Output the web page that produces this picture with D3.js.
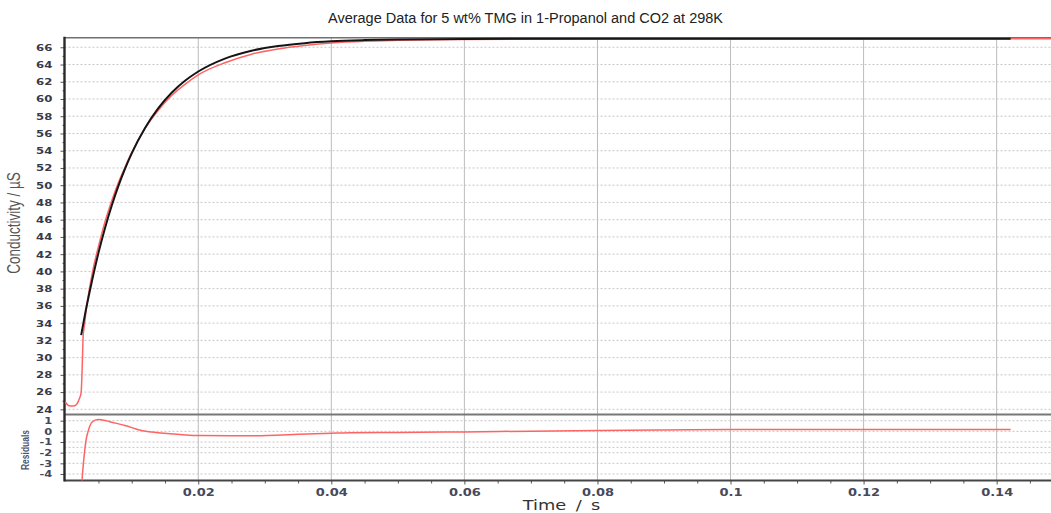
<!DOCTYPE html>
<html>
<head>
<meta charset="utf-8">
<script src="https://cdn.jsdelivr.net/npm/d3@7"></script>
<style>
  body { margin: 0; background: #fff; }
  svg { display: block; }
</style>
</head>
<body>
<div class="chart"></div>
<script>
const w = 1051;
const h = 513;
const SX = 1.3; // text in the source is stretched sideways

// measured conductivity (red)
const timeData = [0, 0.0004, 0.0008, 0.0012, 0.0016, 0.0019, 0.0021, 0.0023, 0.0024, 0.0026, 0.0027,
    0.0029, 0.0032, 0.0036, 0.0042, 0.005, 0.006, 0.007, 0.008, 0.009, 0.010, 0.012, 0.014, 0.016,
    0.018, 0.020, 0.024, 0.028, 0.032, 0.036, 0.040, 0.045, 0.050, 0.060, 0.070, 0.080, 0.100,
    0.120, 0.1482];
const condData = [24.85, 24.5, 24.4, 24.4, 24.5, 24.8, 25.2, 25.6, 26.0, 30.0, 32.5,
    33.8, 35.8, 37.8, 40.3, 42.9, 45.8, 48.2, 50.3, 52.1, 53.8, 56.6, 58.7, 60.4,
    61.7, 62.8, 64.2, 65.2, 65.8, 66.2, 66.5, 66.7, 66.8, 66.9, 66.95, 67.0, 67.0,
    67.0, 67.0];

// fitted curve (black)
const timeFit = [0.0024, 0.003, 0.004, 0.005, 0.006, 0.007, 0.008, 0.009, 0.010, 0.012, 0.014,
    0.016, 0.018, 0.020, 0.024, 0.028, 0.032, 0.036, 0.040, 0.045, 0.050, 0.060, 0.080, 0.100,
    0.120, 0.1421];
const condFit = [32.6, 35.1, 38.8, 42.15, 45.07, 47.64, 49.92, 51.93, 53.7, 56.64, 58.93,
    60.72, 62.11, 63.19, 64.69, 65.6, 66.15, 66.48, 66.69, 66.83, 66.91, 66.97, 67.0, 67.0,
    67.0, 67.0];

// residuals (red, lower panel)
const timeRes = [0.0023, 0.0026, 0.0029, 0.0032, 0.0034, 0.0037, 0.0042, 0.005, 0.0058, 0.0067,
    0.009, 0.0113, 0.0153, 0.0203, 0.025, 0.0304, 0.035, 0.040, 0.043, 0.050, 0.060, 0.070,
    0.080, 0.090, 0.100, 0.110, 0.120, 0.130, 0.1421];
const resid = [-6.5, -4.0, -2.0, -0.6, -0.1, 0.5, 0.95, 1.1, 1.05, 0.9,
    0.55, 0.1, -0.2, -0.4, -0.42, -0.38, -0.28, -0.17, -0.12, -0.1, -0.05, 0.02,
    0.08, 0.13, 0.18, 0.17, 0.18, 0.17, 0.17];

const condTicks = [24, 26, 28, 30, 32, 34, 36, 38, 40, 42, 44, 46, 48, 50, 52, 54, 56, 58, 60, 62, 64, 66];
const condMinor = [25, 27, 29, 31, 33, 35, 37, 39, 41, 43, 45, 47, 49, 51, 53, 55, 57, 59, 61, 63, 65];
const residTicks = [1, 0, -1, -2, -3, -4];
const residGrid = [1, 0, -1, -1.5, -2, -3, -4];
const timeTicks = [0.02, 0.04, 0.06, 0.08, 0.1, 0.12, 0.14];
const timeLabels = ["0.02", "0.04", "0.06", "0.08", "0.1", "0.12", "0.14"];
const timeMinor = [0.005, 0.01, 0.015, 0.025, 0.03, 0.035, 0.045, 0.05, 0.055, 0.065, 0.07, 0.075,
    0.085, 0.09, 0.095, 0.105, 0.11, 0.115, 0.125, 0.13, 0.135, 0.145];

const plotLeft = 64.5, plotTop = 37.7, plotMid = 414.5, plotBottom = 480.5;

const x = d3.scaleLinear().domain([0, 0.14817]).range([65.2, w]);
const yMain = d3.scaleLinear().domain([23.4, 67.11]).range([plotMid, plotTop]);
const yRes = d3.scaleLinear().domain([-4.61, 1.58]).range([plotBottom, plotMid]);

const svg = d3.select(".chart")
    .append("svg")
    .attr("width", w)
    .attr("height", h)
    .style("background", "#fff");

const defs = svg.append("defs");
defs.append("clipPath").attr("id", "clipMain")
    .append("rect").attr("x", plotLeft).attr("y", plotTop - 1)
    .attr("width", w - plotLeft).attr("height", plotMid - plotTop + 1);
defs.append("clipPath").attr("id", "clipRes")
    .append("rect").attr("x", plotLeft).attr("y", plotMid)
    .attr("width", w - plotLeft).attr("height", plotBottom - plotMid);

// grid
svg.append("g").selectAll("line")
    .data(condTicks)
    .enter().append("line")
    .attr("x1", plotLeft).attr("x2", w)
    .attr("y1", d => yMain(d)).attr("y2", d => yMain(d))
    .attr("stroke", "#c6c6c6")
    .attr("stroke-dasharray", "2,2");

svg.append("g").selectAll("line")
    .data(residGrid)
    .enter().append("line")
    .attr("x1", plotLeft).attr("x2", w)
    .attr("y1", d => yRes(d)).attr("y2", d => yRes(d))
    .attr("stroke", "#c6c6c6")
    .attr("stroke-dasharray", "2,2");

svg.append("g").selectAll("line")
    .data(timeTicks)
    .enter().append("line")
    .attr("x1", d => x(d)).attr("x2", d => x(d))
    .attr("y1", plotTop).attr("y2", plotBottom)
    .attr("stroke", "#bcbcbc");

// axes
function styleTicks(g, size, color) {
    g.select(".domain").remove();
    g.selectAll("line").attr("stroke", "#555");
    g.selectAll("text")
        .attr("transform", `scale(${SX},1)`)
        .style("font-family", "'DejaVu Sans', Verdana, sans-serif")
        .style("font-weight", "bold")
        .style("font-size", size + "px")
        .attr("fill", color);
}

svg.append("g")
    .attr("transform", `translate(${plotLeft},0)`)
    .call(d3.axisLeft(yMain).tickValues(condTicks).tickSize(4).tickPadding(5.4).tickFormat(d => d))
    .call(g => styleTicks(g, 9, "#353a4d"));

svg.append("g")
    .attr("transform", `translate(${plotLeft},0)`)
    .call(d3.axisLeft(yMain).tickValues(condMinor).tickSize(2).tickFormat(""))
    .call(g => styleTicks(g, 8, "#000"));

svg.append("g")
    .attr("transform", `translate(${plotLeft},0)`)
    .call(d3.axisLeft(yRes).tickValues(residTicks).tickSize(4).tickPadding(5.4).tickFormat(d => String(d)))
    .call(g => styleTicks(g, 8.8, "#434860"));

svg.append("g")
    .attr("transform", `translate(0,${plotBottom})`)
    .call(d3.axisBottom(x).tickValues(timeTicks).tickSize(4).tickPadding(4.4).tickFormat((d, i) => timeLabels[i]))
    .call(g => styleTicks(g, 10, "#464a5c"));

svg.append("g")
    .attr("transform", `translate(0,${plotBottom})`)
    .call(d3.axisBottom(x).tickValues(timeMinor).tickSize(3).tickFormat(""))
    .call(g => styleTicks(g, 8, "#000"));

// frame
svg.append("line").attr("x1", plotLeft).attr("x2", w).attr("y1", plotTop).attr("y2", plotTop)
    .attr("stroke", "#707070").attr("stroke-width", 1.6);
svg.append("line").attr("x1", plotLeft).attr("x2", w).attr("y1", plotMid).attr("y2", plotMid)
    .attr("stroke", "#777").attr("stroke-width", 1.8);
svg.append("line").attr("x1", plotLeft).attr("x2", w).attr("y1", plotBottom).attr("y2", plotBottom)
    .attr("stroke", "#454545").attr("stroke-width", 2.2);
svg.append("line").attr("x1", plotLeft).attr("x2", plotLeft).attr("y1", plotTop - 1).attr("y2", plotBottom + 1)
    .attr("stroke", "#2a2a2a").attr("stroke-width", 2.4);

// series
const mainLine = d3.line()
    .x(d => x(d[0]))
    .y(d => yMain(d[1]))
    .curve(d3.curveMonotoneX);

svg.append("path")
    .datum(d3.zip(timeData, condData))
    .attr("clip-path", "url(#clipMain)")
    .attr("fill", "none")
    .attr("stroke", "#ff6464")
    .attr("stroke-width", 1.5)
    .attr("d", mainLine);

svg.append("path")
    .datum(d3.zip(timeFit, condFit))
    .attr("clip-path", "url(#clipMain)")
    .attr("fill", "none")
    .attr("stroke", "#151515")
    .attr("stroke-width", 2)
    .attr("d", mainLine);

svg.append("path")
    .datum(d3.zip(timeRes, resid))
    .attr("clip-path", "url(#clipRes)")
    .attr("fill", "none")
    .attr("stroke", "#ff6464")
    .attr("stroke-width", 1.5)
    .attr("d", d3.line().x(d => x(d[0])).y(d => yRes(d[1])).curve(d3.curveMonotoneX));

// titles
svg.append("text")
    .attr("x", 525.5)
    .attr("y", 23)
    .attr("text-anchor", "middle")
    .attr("textLength", 395)
    .attr("lengthAdjust", "spacingAndGlyphs")
    .style("font-family", "'Liberation Sans', Arial, sans-serif")
    .style("font-size", "14px")
    .attr("fill", "#222")
    .text("Average Data for 5 wt% TMG in 1-Propanol and CO2 at 298K");

svg.append("text")
    .attr("transform", `translate(20,223) scale(${SX},1) rotate(-90)`)
    .attr("text-anchor", "middle")
    .style("font-family", "'Liberation Sans', Arial, sans-serif")
    .style("font-size", "13.5px")
    .attr("fill", "#555")
    .text("Conductivity / µS");

svg.append("text")
    .attr("transform", `translate(29,450) scale(${SX},1) rotate(-90)`)
    .attr("text-anchor", "middle")
    .style("font-family", "'Liberation Sans', Arial, sans-serif")
    .style("font-weight", "bold")
    .style("font-size", "8.5px")
    .attr("fill", "#50556a")
    .text("Residuals");

svg.append("text")
    .attr("transform", `translate(561.5,510) scale(1.27,1)`)
    .attr("text-anchor", "middle")
    .style("font-family", "'DejaVu Sans', Verdana, sans-serif")
    .style("font-size", "14px")
    .style("word-spacing", "3px")
    .attr("fill", "#333")
    .text("Time / s");
</script>
</body>
</html>
